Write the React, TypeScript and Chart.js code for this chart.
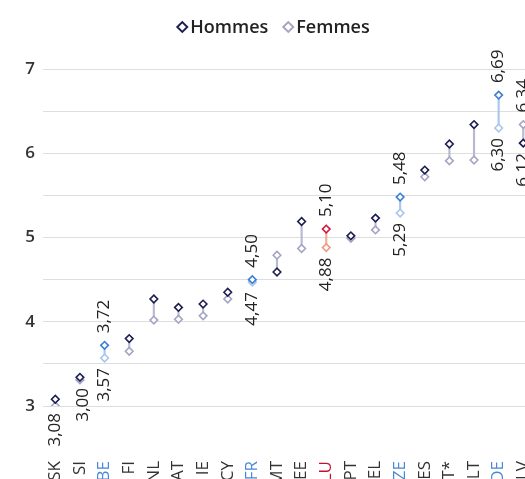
import React, { useEffect, useRef } from 'react';
import { Chart, registerables } from 'chart.js';

Chart.register(...registerables);

const categories = ['SK', 'SI', 'BE', 'FI', 'NL', 'AT', 'IE', 'CY', 'FR', 'MT', 'EE', 'LU', 'PT', 'EL', 'ZE', 'ES', 'IT*', 'LT', 'DE', 'LV'];
const hommes = [3.08, 3.34, 3.72, 3.80, 4.27, 4.17, 4.21, 4.35, 4.50, 4.59, 5.19, 5.10, 5.02, 5.23, 5.48, 5.80, 6.11, 6.34, 6.69, 6.12];
const femmes = [3.00, 3.31, 3.57, 3.65, 4.02, 4.03, 4.07, 4.27, 4.47, 4.79, 4.87, 4.88, 4.99, 5.09, 5.29, 5.72, 5.91, 5.92, 6.30, 6.34];
const blueCategories = ['BE', 'FR', 'ZE', 'DE'];
const redCategories = ['LU'];
const labelledCategories = ['SK', 'BE', 'FR', 'LU', 'ZE', 'DE', 'LV'];
const yMin = 3;
const yMax = 7;
const yStep = 0.5;

const NAVY = '#1c1e4f';
const LAVENDER = '#a4a4c3';
const BLUE = '#3d7ed8';
const LIGHT_BLUE = '#a7c6ef';
const RED = '#d3193d';
const SALMON = '#ef9b82';
const LINK = '#b9b9d2';
const LINK_BLUE = '#a9c7ee';
const LINK_RED = '#f2ab95';
const FONT = '"Open Sans", "Noto Sans", sans-serif';

const kind = (c: string) => (blueCategories.includes(c) ? 'blue' : redCategories.includes(c) ? 'red' : 'base');
const hColor = (c: string) => ({ blue: BLUE, red: RED, base: NAVY } as any)[kind(c)];
const fColor = (c: string) => ({ blue: LIGHT_BLUE, red: SALMON, base: LAVENDER } as any)[kind(c)];
const linkColor = (c: string) => ({ blue: LINK_BLUE, red: LINK_RED, base: LINK } as any)[kind(c)];
const tickColor = (c: string) => ({ blue: '#4a87d8', red: '#c8102e', base: '#333333' } as any)[kind(c)];
const fmt = (v: number) => v.toFixed(2).replace('.', ',');

function diamond(ctx: CanvasRenderingContext2D, x: number, y: number, r: number, color: string, lw: number) {
  ctx.beginPath();
  ctx.moveTo(x - r, y);
  ctx.lineTo(x, y - r);
  ctx.lineTo(x + r, y);
  ctx.lineTo(x, y + r);
  ctx.closePath();
  ctx.fillStyle = '#ffffff';
  ctx.fill();
  ctx.lineWidth = lw;
  ctx.strokeStyle = color;
  ctx.stroke();
}

const legendPlugin = {
  id: 'customLegend',
  afterDraw(chart: any) {
    const ctx: CanvasRenderingContext2D = chart.ctx;
    ctx.save();
    ctx.font = `600 18px ${FONT}`;
    const items = [
      { text: 'Hommes', color: NAVY },
      { text: 'Femmes', color: LAVENDER },
    ];
    const widths = items.map((it) => ctx.measureText(it.text).width);
    const total = widths.reduce((a, b) => a + b, 0) + items.length * 13 + 15 * (items.length - 1);
    let x = chart.width / 2 - total / 2;
    const y = 27;
    items.forEach((it, i) => {
      diamond(ctx, x + 5, y, 5, it.color, 1.9);
      ctx.fillStyle = '#222222';
      ctx.textAlign = 'left';
      ctx.textBaseline = 'middle';
      ctx.fillText(it.text, x + 13, y + 1);
      x += 13 + widths[i] + 15;
    });
    ctx.restore();
  },
};

const labelPlugin = {
  id: 'valueLabels',
  afterDatasetsDraw(chart: any) {
    const ctx: CanvasRenderingContext2D = chart.ctx;
    const xs = chart.scales.x;
    const ys = chart.scales.y;
    ctx.save();
    ctx.font = `400 17px ${FONT}`;
    ctx.fillStyle = '#222222';
    ctx.textBaseline = 'middle';
    const draw = (text: string, x: number, y: number, up: boolean) => {
      ctx.save();
      ctx.translate(x, y);
      ctx.rotate(-Math.PI / 2);
      ctx.textAlign = up ? 'left' : 'right';
      ctx.fillText(text, 0, 0);
      ctx.restore();
    };
    labelledCategories.forEach((c) => {
      const i = categories.indexOf(c);
      const x = xs.getPixelForValue(i);
      const hi = Math.max(hommes[i], femmes[i]);
      const lo = Math.min(hommes[i], femmes[i]);
      if (c === 'SK') {
        const yLo = ys.getPixelForValue(lo);
        draw(fmt(hi), x, yLo + 7, false);
        draw(fmt(lo), x + 28, yLo - 18, false);
        return;
      }
      draw(fmt(hi), x, ys.getPixelForValue(hi) - 12, true);
      draw(fmt(lo), x, ys.getPixelForValue(lo) + 10, false);
    });
    ctx.restore();
  },
};

export default function App() {
  const ref = useRef<HTMLCanvasElement | null>(null);
  useEffect(() => {
    if (!ref.current) return;
    const chart = new Chart(ref.current, {
      type: 'line',
      data: {
        labels: categories,
        datasets: [
          {
            type: 'line',
            label: 'Hommes',
            data: hommes,
            showLine: false,
            pointStyle: 'rectRot',
            pointRadius: 3.8,
            pointBorderWidth: 1.6,
            pointBackgroundColor: '#ffffff',
            pointBorderColor: categories.map(hColor),
            order: 0,
          } as any,
          {
            type: 'line',
            label: 'Femmes',
            data: femmes,
            showLine: false,
            pointStyle: 'rectRot',
            pointRadius: 3.8,
            pointBorderWidth: 1.6,
            pointBackgroundColor: '#ffffff',
            pointBorderColor: categories.map(fColor),
            order: 1,
          } as any,
          {
            type: 'bar',
            label: 'écart',
            data: categories.map((_, i) => [femmes[i], hommes[i]]),
            backgroundColor: categories.map(linkColor),
            borderWidth: 0,
            barThickness: 1.5,
            order: 2,
          } as any,
        ],
      },
      options: {
        responsive: false,
        animation: false,
        devicePixelRatio: 1,
        layout: { padding: { top: 69, left: 0, right: 11.4, bottom: 0 } },
        plugins: {
          legend: { display: false },
          tooltip: { enabled: false },
        },
        scales: {
          x: {
            offset: true,
            grid: { display: false, drawTicks: false },
            border: { display: false },
            ticks: {
              autoSkip: false,
              minRotation: 90,
              maxRotation: 90,
              padding: 55,
              font: { family: FONT, size: 17, weight: '500' },
              color: (c: any) => tickColor(categories[c.index]),
            },
            afterFit: (s: any) => {
              s.height = 114;
              s.paddingLeft = 0;
              s.paddingRight = 0;
              s.paddingTop = 0;
              s.paddingBottom = 0;
            },
          },
          y: {
            min: yMin,
            max: yMax,
            grid: { color: '#dedede', lineWidth: 1, drawTicks: false },
            border: { display: false },
            ticks: {
              stepSize: yStep,
              padding: 8,
              font: { family: FONT, size: 17, weight: '600' },
              color: '#333333',
              callback: (v: any) => (Number.isInteger(Number(v)) ? String(v) : ''),
            },
            afterFit: (s: any) => {
              s.width = 43;
              s.paddingBottom = 0;
            },
          },
        },
      } as any,
      plugins: [legendPlugin, labelPlugin],
    });
    return () => chart.destroy();
  }, []);
  return (
    <div style={{ position: 'fixed', left: 0, top: 0, width: 525, height: 479, overflow: 'hidden', background: '#ffffff' }}>
      <canvas ref={ref} width={547} height={520} style={{ display: 'block', width: 547, height: 520 }} />
    </div>
  );
}
